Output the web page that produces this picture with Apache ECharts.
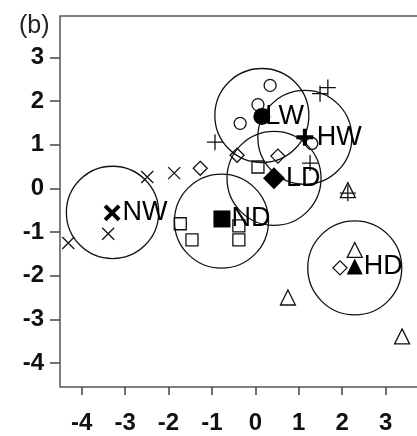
<!DOCTYPE html>
<html>
<head>
<meta charset="utf-8">
<script src="https://cdn.jsdelivr.net/npm/echarts@6/dist/echarts.min.js"></script>
<style>
  html, body { margin: 0; padding: 0; background: #fff; }
  #chart { width: 417px; height: 436px; }
</style>
</head>
<body>
<div id="chart"></div>
<script>
// Tick values shown on both axes
const xTicks = [-4, -3, -2, -1, 0, 1, 2, 3];
const yTicks = [-4, -3, -2, -1, 0, 1, 2, 3];

// Individual observations per group [x, y]
const nwPoints = [[-3.39, -1.04], [-4.31, -1.25], [-2.49, 0.26], [-1.87, 0.35]];
const ndPoints = [[-1.73, -0.81], [-1.46, -1.18], [-0.38, -0.86], [-0.38, -1.18], [0.06, 0.49]];
const ldPoints = [[-1.27, 0.46], [-0.42, 0.76], [0.52, 0.74], [1.95, -1.82]];
const lwPoints = [[0.34, 2.36], [0.06, 1.92], [-0.35, 1.49], [1.30, 1.03]];
const hwPoints = [[1.49, 2.17], [1.67, 2.31], [-0.93, 1.06], [1.26, 0.58], [2.13, -0.11]];
const hdPoints = [[2.29, -1.41], [0.75, -2.50], [3.38, -3.39], [2.13, -0.04]];

// Group centroids [name, x, y]
const centroids = [
  ['NW', -3.30, -0.56],
  ['ND', -0.77, -0.70],
  ['LD', 0.43, 0.23],
  ['LW', 0.15, 1.65],
  ['HW', 1.14, 1.17],
  ['HD', 2.29, -1.79]
];

// Confidence circles [cx, cy, radius]
const circles = [
  [-3.29, -0.55, 1.06],
  [-0.78, -0.75, 1.08],
  [0.43, 0.23, 1.08],
  [0.15, 1.67, 1.08],
  [1.14, 1.17, 1.08],
  [2.29, -1.82, 1.08]
];

const CROSS = 'path://M0,0L10,10M10,0L0,10';
const PLUS = 'path://M5,0L5,10M0,5L10,5';

// Marker style for each group
const groupStyle = {
  NW: { symbol: CROSS, size: 12, csize: 14, line: true },
  ND: { symbol: 'rect', size: 12, csize: 17, line: false },
  LD: { symbol: 'diamond', size: 14, csize: 22, line: false },
  LW: { symbol: 'circle', size: 12, csize: 17, line: false },
  HW: { symbol: PLUS, size: 16, csize: 17, line: true },
  HD: { symbol: 'triangle', size: 15, csize: 16, line: false }
};
const groupPoints = { NW: nwPoints, ND: ndPoints, LD: ldPoints, LW: lwPoints, HW: hwPoints, HD: hdPoints };

const series = [];

series.push({
  type: 'custom',
  name: 'circles',
  data: circles,
  encode: { x: 0, y: 1 },
  silent: true,
  z: 1,
  renderItem: function (params, api) {
    const c = api.coord([api.value(0), api.value(1)]);
    const s = api.size([api.value(2), api.value(2)]);
    return {
      type: 'circle',
      shape: { cx: c[0], cy: c[1], r: (s[0] + s[1]) / 2 },
      style: { fill: 'none', stroke: '#111', lineWidth: 1.3 }
    };
  }
});

Object.keys(groupPoints).forEach(function (g) {
  const st = groupStyle[g];
  series.push({
    type: 'scatter',
    name: g,
    data: groupPoints[g],
    symbol: st.symbol,
    symbolSize: st.size,
    z: 2,
    itemStyle: { color: 'rgba(255,255,255,0)', borderColor: '#111', borderWidth: 1.3, opacity: 1 }
  });
});

centroids.forEach(function (c) {
  const st = groupStyle[c[0]];
  series.push({
    type: 'scatter',
    name: c[0] + ' centroid',
    data: [{ name: c[0], value: [c[1], c[2]] }],
    symbol: st.symbol,
    symbolSize: st.csize,
    z: 3,
    itemStyle: st.line
      ? { color: 'none', borderColor: '#000', borderWidth: 4, opacity: 1 }
      : { color: '#000', borderColor: '#000', borderWidth: 0, opacity: 1 },
    label: {
      show: true,
      position: 'right',
      distance: c[0] === 'LW' ? -5 : 1,
      formatter: '{b}',
      color: '#000',
      fontFamily: 'Liberation Sans, Arial, sans-serif',
      fontSize: 27
    }
  });
});

const chart = echarts.init(document.getElementById('chart'), null, { renderer: 'canvas' });
chart.setOption({
  animation: false,
  backgroundColor: '#fff',
  title: {
    text: '(b)',
    left: 14,
    top: 9,
    textStyle: { fontFamily: 'Liberation Sans, Arial, sans-serif', fontSize: 25, fontWeight: 'normal', color: '#222' }
  },
  grid: {
    left: 60, top: 16, width: 369, height: 371,
    containLabel: false, outerBoundsMode: 'none',
    show: true, borderColor: '#555', borderWidth: 1.5, backgroundColor: 'transparent'
  },
  xAxis: {
    type: 'value', min: -4.5, max: 4,
    splitLine: { show: false },
    axisLine: { show: false, onZero: false },
    axisTick: { show: true, customValues: xTicks, length: 8, inside: false, lineStyle: { color: '#444', width: 1.5 } },
    axisLabel: {
      customValues: xTicks, margin: 24, color: '#111',
      fontFamily: 'Liberation Sans, Arial, sans-serif', fontSize: 24, fontWeight: 'bold'
    }
  },
  yAxis: {
    type: 'value', min: -4.55, max: 3.95,
    splitLine: { show: false },
    axisLine: { show: false, onZero: false },
    axisTick: { show: true, customValues: yTicks, length: 10, inside: false, lineStyle: { color: '#444', width: 1.5 } },
    axisLabel: {
      customValues: yTicks, margin: 16, color: '#111',
      fontFamily: 'Liberation Sans, Arial, sans-serif', fontSize: 24, fontWeight: 'bold'
    }
  },
  series: series
});
</script>
</body>
</html>
